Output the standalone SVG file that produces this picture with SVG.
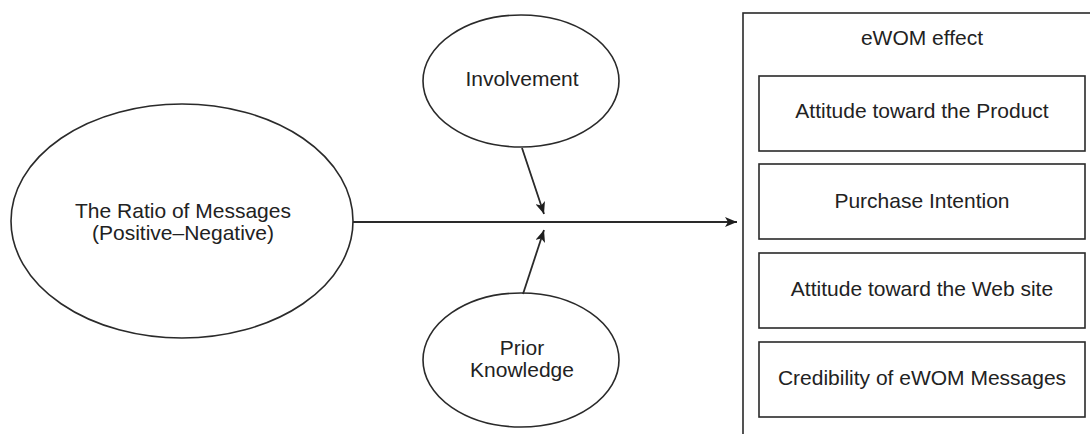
<svg xmlns="http://www.w3.org/2000/svg" width="1090" height="434" viewBox="0 0 1090 434">
<style>
.s{fill:#fff;stroke:#2a2a2a;stroke-width:1.6}
.t{font-family:"Liberation Sans",Arial,sans-serif;font-size:21px;fill:#222;text-anchor:middle}
.c{stroke:#2a2a2a;stroke-width:1.8;fill:none}
</style>
<defs>
<marker id="ah" markerWidth="12" markerHeight="10" refX="12" refY="5" orient="auto" markerUnits="userSpaceOnUse">
<path d="M0,0 L12,5 L0,10 L3,5 Z" fill="#1e1e1e"/>
</marker>
</defs>
<rect width="1090" height="434" fill="#fff"/>
<g id="ratio">
<ellipse class="s" cx="182" cy="221" rx="171" ry="117"/>
<text class="t" x="183" y="218">The Ratio of Messages</text>
<text class="t" x="183" y="240">(Positive–Negative)</text>
</g>
<g id="involvement">
<ellipse class="s" cx="521" cy="81" rx="98" ry="66"/>
<text class="t" x="522" y="86">Involvement</text>
</g>
<g id="prior">
<ellipse class="s" cx="521" cy="360" rx="98" ry="67"/>
<text class="t" x="522" y="355">Prior</text>
<text class="t" x="522" y="377">Knowledge</text>
</g>
<g id="ewom">
<rect class="s" x="743" y="13" width="360" height="440"/>
<text class="t" x="922" y="45">eWOM effect</text>
</g>
<g id="attitude-product">
<rect class="s" x="759" y="76" width="326" height="75"/>
<text class="t" x="922" y="118">Attitude toward the Product</text>
</g>
<g id="purchase">
<rect class="s" x="759" y="164" width="326" height="75"/>
<text class="t" x="922" y="208">Purchase Intention</text>
</g>
<g id="attitude-web">
<rect class="s" x="759" y="253" width="326" height="75"/>
<text class="t" x="922" y="296">Attitude toward the Web site</text>
</g>
<g id="credibility">
<rect class="s" x="759" y="342" width="326" height="75"/>
<text class="t" x="922" y="385">Credibility of eWOM Messages</text>
</g>
<g id="connectors">
<line class="c" x1="353" y1="222" x2="737" y2="222" marker-end="url(#ah)"/>
<line class="c" x1="522" y1="148" x2="544" y2="214" marker-end="url(#ah)"/>
<line class="c" x1="523" y1="294" x2="544" y2="230" marker-end="url(#ah)"/>
</g>
</svg>
